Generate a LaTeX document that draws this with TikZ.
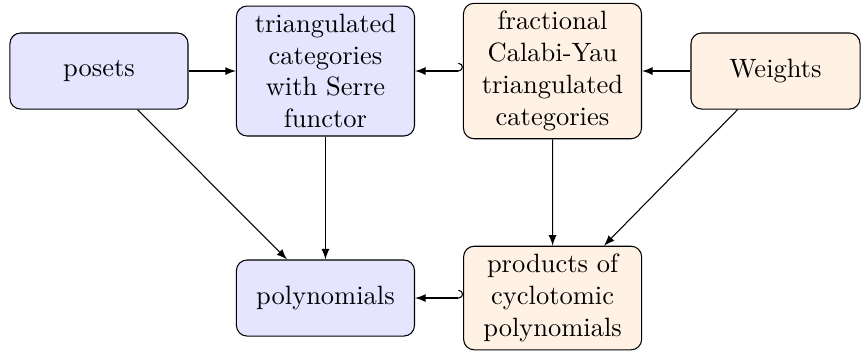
\documentclass[tikz,border=0pt]{standalone}
\usetikzlibrary{arrows}
\begin{document}
\begin{tikzpicture}[
		blue box/.style={draw,fill=blue!10,rounded corners=4pt,minimum width=67.2pt,minimum height=28.7pt,inner sep=3pt,text width=61pt,align=center},
		orange box/.style={draw,fill=orange!10,rounded corners=4pt,minimum width=67.2pt,minimum height=28.7pt,inner sep=3pt,text width=61pt,align=center}]
		\useasboundingbox (0,0) rectangle (11.42,4.669);
		\node[blue box](P) at (1.313,3.727) {posets};
		\node[blue box](T) at (4.317,3.727) {triangulated categories with Serre functor};
		\node[orange box](F) at (7.328,3.727) {fractional Calabi-Yau triangulated categories};
		\node[orange box,minimum width=63.8pt,text width=57.6pt](W) at (10.286,3.727) {Weights};
		\node[blue box](Y) at (4.317,0.716) {polynomials};
		\node[orange box](C) at (7.33,0.716) {products of cyclotomic polynomials};
		\draw[-latex] (P) -- (T);
		\draw[left hook-latex] (F) -- (T);
		\draw[-latex] (W) -- (F);
		\draw[-latex] (P) -- (Y);
		\draw[-latex] (T) -- (Y);
		\draw[-latex] (F) -- (C);
		\draw[-latex] (W) -- (C);
		\draw[left hook-latex] (C) -- (Y);
%		\draw[-latex] (T) -- (C);
		\end{tikzpicture}
\end{document}
